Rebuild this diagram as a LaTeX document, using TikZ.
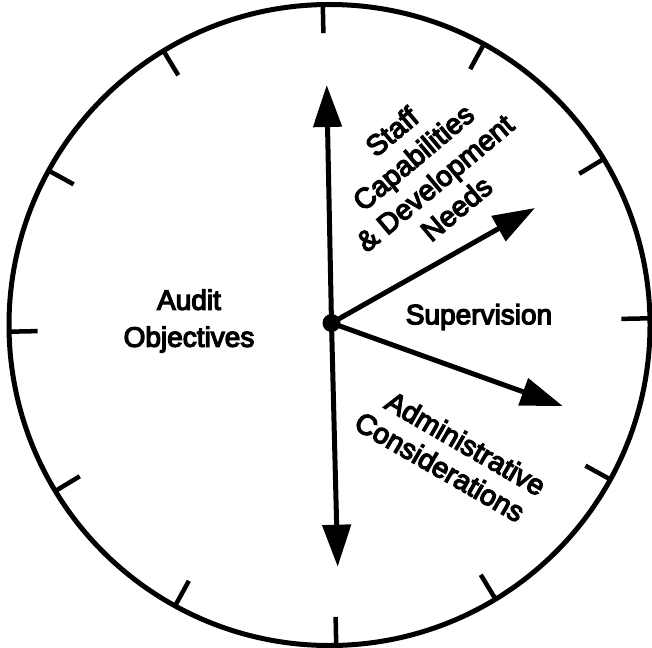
\documentclass[tikz,border=0pt]{standalone}
\usepackage{fontspec}
\setmainfont{Liberation Sans}
\newfontfamily\lblfont{Liberation Sans}[FakeBold=4.5]
\usetikzlibrary{arrows.meta,calc}
\begin{document}
\begin{tikzpicture}[x=1pt,y=-1pt,
  rim/.style={line width=5pt},
  hourtick/.style={line width=4.5pt},
  hand/.style={line width=5pt, -{Triangle[length=42pt,width=28pt]}},
  lbl/.style={font=\lblfont\fontsize{28}{37}\selectfont, align=center, inner sep=0pt},
  rlbl/.style={font=\lblfont\fontsize{28.5}{33.5}\selectfont, align=center, inner sep=0pt},
  hub/.style={circle, fill, inner sep=0pt, minimum size=18pt}
]
\useasboundingbox (0,0) rectangle (652,647);
\coordinate (C) at (329.5,325);
\draw[rim] (C) circle[radius=320.5];
\foreach \k in {0,...,11} {
  \draw[hourtick] ($(C)+({-(91.2-30*\k)}:320)$) -- ($(C)+({-(91.2-30*\k)}:292)$);
}
\node[hub] (O) at (331.5,323) {};
\coordinate (t1) at (326.7,85);
\coordinate (t2) at (535,208);
\coordinate (t3) at (562.7,406);
\coordinate (t4) at (337.7,566.7);
\draw[hand] (O.center) -- (t1);
\draw[hand] (O.center) -- (t2);
\draw[hand] (O.center) -- (t3);
\draw[hand] (O.center) -- (t4);
\node[lbl] (aud) at (189,321) {Audit\\Objectives};
\node[lbl] (sup) at (479,317) {Supervision};
\node[rlbl, rotate=40] (stf) at (424,170) {Staff\\Capabilities\\\& Development\\Needs};
\node[rlbl, rotate=-30] (adm1) at (465.7,443.3) {Administrative};
\node[rlbl, rotate=-30] (adm2) at (440,466.7) {Considerations};
\end{tikzpicture}
\end{document}
